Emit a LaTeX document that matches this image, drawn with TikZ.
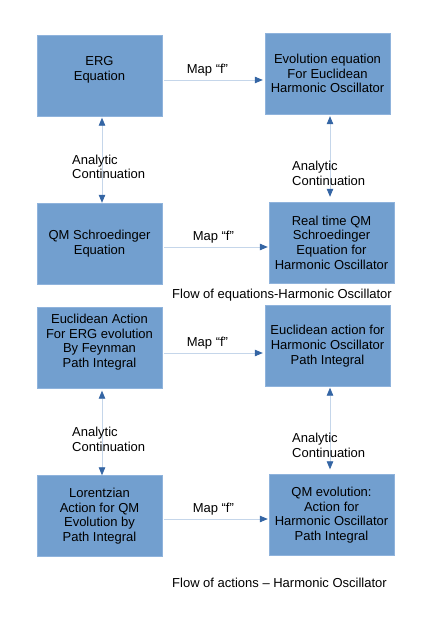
\documentclass[tikz,border=0pt]{standalone}
\usepackage{fontspec}
\setmainfont{Liberation Sans}
\usetikzlibrary{arrows.meta}
\definecolor{boxblue}{HTML}{729FCF}
\definecolor{boxedge}{HTML}{8FB3DC}
\definecolor{linelite}{HTML}{C5D6EA}
\definecolor{tipblue}{HTML}{3465A4}
\tikzset{
	flowbox/.style={draw=boxedge,fill=boxblue,minimum width=125pt,minimum height=81pt,align=center,inner sep=0pt},
	maparrow/.style={draw=linelite,line width=0.8pt,-{Triangle[length=8pt,width=6.5pt,color=tipblue]}},
	contarrow/.style={draw=linelite,line width=0.8pt,{Triangle[length=8pt,width=6.5pt,color=tipblue]}-{Triangle[length=8pt,width=6.5pt,color=tipblue]}},
	sidetext/.style={anchor=west,align=left,inner sep=0pt}
}
\begin{document}
\begin{tikzpicture}[x=1pt,y=-1pt,every node/.style={font=\fontsize{13}{14.7}\selectfont}]
		\useasboundingbox (0,0) rectangle (436,617);
		% equations
		\node[flowbox] (ergEq) at (99.5,75.5) {ERG\\Equation\\~};
		\node[flowbox] (euclEvol) at (327.5,73.5) {Evolution equation\\For Euclidean\\Harmonic Oscillator};
		\node[flowbox] (qmSchr) at (99.5,243.5) {QM Schroedinger\\Equation};
		\node[flowbox] (realSchr) at (331.5,242.5) {Real time QM\\Schroedinger\\Equation for\\Harmonic Oscillator};
		\draw[maparrow,shorten >=2pt] ([xshift=2pt,yshift=-4.5pt]ergEq.east) coordinate (mapA) -- (mapA -| euclEvol.west) node[pos=0.43,above] (mapAtext) {Map “f”};
		\draw[maparrow,shorten >=1pt] ([xshift=2pt,yshift=-3.5pt]qmSchr.east) coordinate (mapB) -- (mapB -| realSchr.west) node[pos=0.47,above] (mapBtext) {Map “f”};
		\draw[contarrow,shorten <=1.5pt] ([xshift=2.5pt]ergEq.south) coordinate (contA) -- (contA |- qmSchr.north);
		\draw[contarrow,shorten <=2pt,shorten >=5pt] ([xshift=2.5pt]euclEvol.south) coordinate (contB) -- (contB |- realSchr.north);
		\node[sidetext] (contAtext) at (72,167) {Analytic\\Continuation};
		\node[sidetext] (contBtext) at (292,173.5) {Analytic\\Continuation};
		\node[sidetext] (capEq) at (172,295) {Flow of equations-Harmonic Oscillator};
		% actions
		\node[flowbox] (euclAct) at (99.5,348) {Euclidean Action\\For ERG evolution\\By Feynman\\Path Integral\\~};
		\node[flowbox] (hoEucl) at (327.5,346) {Euclidean action for\\Harmonic Oscillator\\Path Integral};
		\node[flowbox] (lorAct) at (99.5,516) {Lorentzian\\Action for QM\\Evolution by\\Path Integral};
		\node[flowbox] (qmAct) at (331.5,515) {QM evolution:\\Action for\\Harmonic Oscillator\\Path Integral};
		\draw[maparrow,shorten >=2pt] ([xshift=2pt,yshift=-5pt]euclAct.east) coordinate (mapC) -- (mapC -| hoEucl.west) node[pos=0.43,above] (mapCtext) {Map “f”};
		\draw[maparrow,shorten >=1pt] ([xshift=2pt,yshift=-3pt]lorAct.east) coordinate (mapD) -- (mapD -| qmAct.west) node[pos=0.47,above] (mapDtext) {Map “f”};
		\draw[contarrow,shorten <=2pt] ([xshift=2.5pt]euclAct.south) coordinate (contC) -- (contC |- lorAct.north);
		\draw[contarrow,shorten <=1pt,shorten >=5pt] ([xshift=2.5pt]hoEucl.south) coordinate (contD) -- (contD |- qmAct.north);
		\node[sidetext] (contCtext) at (72,439) {Analytic\\Continuation};
		\node[sidetext] (contDtext) at (292,445.5) {Analytic\\Continuation};
		\node[sidetext] (capAct) at (172,583) {Flow of actions – Harmonic Oscillator};
	\end{tikzpicture}
\end{document}
